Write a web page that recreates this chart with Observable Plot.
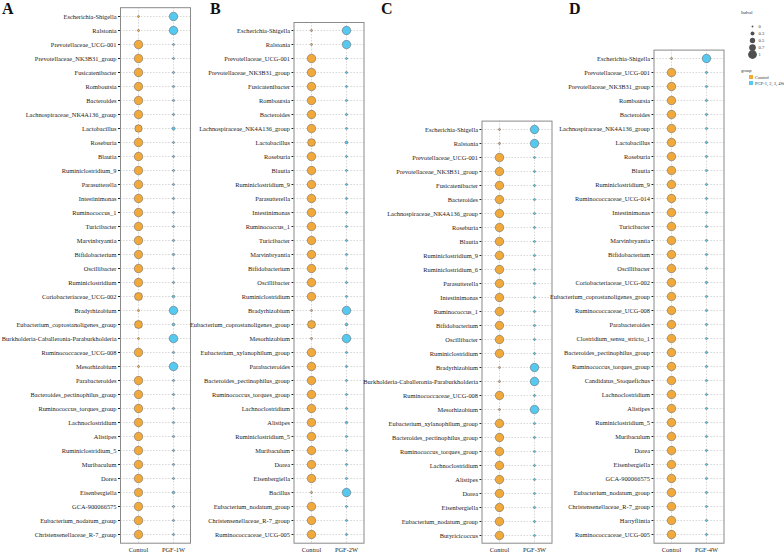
<!DOCTYPE html>
<html>
<head>
<meta charset="utf-8">
<script src="https://cdn.jsdelivr.net/npm/d3@7"></script>
<script src="https://cdn.jsdelivr.net/npm/@observablehq/plot@0.6"></script>
<style>
  html, body { margin: 0; padding: 0; background: #fff; }
  #root { position: relative; width: 784px; height: 553px; overflow: hidden; font-family: "Liberation Serif", serif; }
  .pnl { position: absolute; top: 0; }
  .letter { position: absolute; top: 0; font: bold 16px/16px "Liberation Serif", serif; color: #111; }
  .lg { position: absolute; font: 4.5px/5px "Liberation Serif", serif; color: #333; white-space: nowrap; }
  .sq { position: absolute; width: 4px; height: 4px; }
</style>
</head>
<body>
<div id="root"></div>
<script>
const ORANGE = "#F2A93B";
const BLUE = "#56C9F1";

// ---------- Panel A (PGF-1W) ----------
const rowsA = ["Escherichia-Shigella","Ralstonia","Prevotellaceae_UCG-001","Prevotellaceae_NK3B31_group","Fusicatenibacter","Romboutsia","Bacteroides","Lachnospiraceae_NK4A136_group","Lactobacillus","Roseburia","Blautia","Ruminiclostridium_9","Parasutterella","Intestinimonas","Ruminococcus_1","Turicibacter","Marvinbryantia","Bifidobacterium","Oscillibacter","Ruminiclostridium","Coriobacteriaceae_UCG-002","Bradyrhizobium","Eubacterium_coprostanoligenes_group","Burkholderia-Caballeronia-Paraburkholderia","Ruminococcaceae_UCG-008","Mesorhizobium","Parabacteroides","Bacteroides_pectinophilus_group","Ruminococcus_torques_group","Lachnoclostridium","Alistipes","Ruminiclostridium_5","Muribaculum","Dorea","Eisenbergiella","GCA-900066575","Eubacterium_nodatum_group","Christensenellaceae_R-7_group"];
const ctrlA = [0.03,0.03,0.97,0.96,0.96,0.95,0.95,0.96,0.80,0.97,0.96,0.96,0.96,0.96,0.96,0.96,0.95,0.93,0.96,0.96,0.88,0.05,0.88,0.03,0.95,0.03,0.95,0.95,0.95,0.96,0.95,0.96,0.96,0.96,0.90,0.96,0.96,0.96];
const pgfA  = [0.95,0.95,0.03,0.04,0.04,0.05,0.05,0.04,0.20,0.03,0.04,0.04,0.04,0.04,0.04,0.04,0.05,0.07,0.04,0.04,0.12,0.95,0.12,0.97,0.05,0.97,0.05,0.05,0.05,0.04,0.05,0.04,0.04,0.04,0.10,0.04,0.04,0.04];

// ---------- Panel B (PGF-2W) ----------
const rowsB = ["Escherichia-Shigella","Ralstonia","Prevotellaceae_UCG-001","Prevotellaceae_NK3B31_group","Fusicatenibacter","Romboutsia","Bacteroides","Lachnospiraceae_NK4A136_group","Lactobacillus","Roseburia","Blautia","Ruminiclostridium_9","Parasutterella","Intestinimonas","Ruminococcus_1","Turicibacter","Marvinbryantia","Bifidobacterium","Oscillibacter","Ruminiclostridium","Bradyrhizobium","Eubacterium_coprostanoligenes_group","Mesorhizobium","Eubacterium_xylanophilum_group","Parabacteroides","Bacteroides_pectinophilus_group","Ruminococcus_torques_group","Lachnoclostridium","Alistipes","Ruminiclostridium_5","Muribaculum","Dorea","Eisenbergiella","Bacillus","Eubacterium_nodatum_group","Christensenellaceae_R-7_group","Ruminococcaceae_UCG-005"];
const ctrlB = [0.03,0.03,0.97,0.96,0.96,0.95,0.95,0.96,0.85,0.97,0.96,0.96,0.96,0.96,0.96,0.96,0.95,0.94,0.96,0.96,0.03,0.88,0.03,0.96,0.95,0.96,0.96,0.96,0.92,0.96,0.96,0.96,0.95,0.03,0.96,0.96,0.96];
const pgfB  = [0.95,0.95,0.03,0.04,0.04,0.05,0.05,0.04,0.15,0.03,0.04,0.04,0.04,0.04,0.04,0.04,0.05,0.06,0.04,0.04,0.95,0.12,0.97,0.04,0.05,0.04,0.04,0.04,0.08,0.04,0.04,0.04,0.05,0.95,0.04,0.04,0.04];

// ---------- Panel C (PGF-3W) ----------
const rowsC = ["Escherichia-Shigella","Ralstonia","Prevotellaceae_UCG-001","Prevotellaceae_NK3B31_group","Fusicatenibacter","Bacteroides","Lachnospiraceae_NK4A136_group","Roseburia","Blautia","Ruminiclostridium_9","Ruminiclostridium_6","Parasutterella","Intestinimonas","Ruminococcus_1","Bifidobacterium","Oscillibacter","Ruminiclostridium","Bradyrhizobium","Burkholderia-Caballeronia-Paraburkholderia","Ruminococcaceae_UCG-008","Mesorhizobium","Eubacterium_xylanophilum_group","Bacteroides_pectinophilus_group","Ruminococcus_torques_group","Lachnoclostridium","Alistipes","Dorea","Eisenbergiella","Eubacterium_nodatum_group","Butyricicoccus"];
const ctrlC = [0.03,0.03,0.97,0.96,0.96,0.95,0.95,0.96,0.96,0.96,0.96,0.96,0.96,0.96,0.94,0.96,0.96,0.03,0.03,0.95,0.03,0.96,0.95,0.96,0.96,0.96,0.96,0.94,0.96,0.96];
const pgfC  = [0.95,0.95,0.03,0.04,0.04,0.05,0.05,0.04,0.04,0.04,0.04,0.04,0.04,0.04,0.06,0.04,0.04,0.95,0.97,0.05,0.97,0.04,0.05,0.04,0.04,0.04,0.04,0.06,0.04,0.04];

// ---------- Panel D (PGF-4W) ----------
const rowsD = ["Escherichia-Shigella","Prevotellaceae_UCG-001","Prevotellaceae_NK3B31_group","Romboutsia","Bacteroides","Lachnospiraceae_NK4A136_group","Lactobacillus","Roseburia","Blautia","Ruminiclostridium_9","Ruminococcaceae_UCG-014","Intestinimonas","Turicibacter","Marvinbryantia","Bifidobacterium","Oscillibacter","Coriobacteriaceae_UCG-002","Eubacterium_coprostanoligenes_group","Ruminococcaceae_UCG-008","Parabacteroides","Clostridium_sensu_stricto_1","Bacteroides_pectinophilus_group","Ruminococcus_torques_group","Candidatus_Stoquefichus","Lachnoclostridium","Alistipes","Ruminiclostridium_5","Muribaculum","Dorea","Eisenbergiella","GCA-900066575","Eubacterium_nodatum_group","Christensenellaceae_R-7_group","Harryflintia","Ruminococcaceae_UCG-005"];
const ctrlD = [0.03,0.96,0.96,0.96,0.96,0.96,0.95,0.96,0.96,0.96,0.96,0.96,0.96,0.96,0.96,0.96,0.95,0.96,0.96,0.96,0.96,0.95,0.96,0.96,0.96,0.96,0.96,0.96,0.96,0.96,0.96,0.95,0.96,0.96,0.96];
const pgfD  = [0.95,0.06,0.06,0.06,0.06,0.06,0.07,0.06,0.06,0.05,0.05,0.05,0.06,0.06,0.06,0.06,0.07,0.06,0.06,0.06,0.05,0.07,0.06,0.05,0.05,0.05,0.05,0.05,0.05,0.05,0.05,0.06,0.05,0.05,0.05];

// ---------- Legend ----------
const legendTitle = "Indval";
const legendVals = [0, 0.3, 0.5, 0.7, 1];
const groupTitle = "group";
const groupLabels = ["Control", "PGF-1, 2, 3, 4W"];
const groupColors = [ORANGE, BLUE];

const rScale = {type: "linear", domain: [0, 1], range: [0.9, 4.4]};
const root = document.getElementById("root");

function panel(rows, ctrl, pgf, label, geo) {
  const data = rows.flatMap((r, i) => [
    {taxon: r, group: "Control", v: ctrl[i]},
    {taxon: r, group: label, v: pgf[i]}
  ]);
  const plot = Plot.plot({
    width: geo.width,
    height: 553,
    marginLeft: geo.frameLeft - geo.left,
    marginRight: geo.left + geo.width - geo.frameRight,
    marginTop: geo.frameTop,
    marginBottom: 553 - geo.frameBottom,
    style: {fontFamily: "Liberation Serif, serif", fontSize: "6.4px", background: "transparent", color: "#222", overflow: "visible"},
    x: {type: "point", domain: ["Control", label], padding: 0.5, label: null, tickSize: 0, tickPadding: 4},
    y: {type: "point", domain: rows, padding: 0.5, label: null, tickSize: 2, tickPadding: 2},
    r: rScale,
    color: {domain: ["Control", label], range: [ORANGE, BLUE]},
    marks: [
      Plot.gridX({stroke: "#bdbdbd", strokeOpacity: 1, strokeDasharray: "1.5,1.5", strokeWidth: 0.6}),
      Plot.gridY({stroke: "#bdbdbd", strokeOpacity: 1, strokeDasharray: "1.5,1.5", strokeWidth: 0.6}),
      Plot.frame({stroke: "#8a8a8a", strokeWidth: 1}),
      Plot.dot(data, {x: "group", y: "taxon", r: "v", fill: "group", stroke: "#5a5a5a", strokeWidth: 0.5})
    ]
  });
  plot.classList.add("pnl");
  plot.style.left = geo.left + "px";
  root.appendChild(plot);
}

// row step ~14.07 px, padding half a step at each end
panel(rowsA, ctrlA, pgfA, "PGF-1W", {left: 0,   width: 194, frameLeft: 120,   frameRight: 190,   frameTop: 7.2,   frameBottom: 542.7});
panel(rowsB, ctrlB, pgfB, "PGF-2W", {left: 194, width: 172, frameLeft: 293.5, frameRight: 363.5, frameTop: 22,    frameBottom: 542.7});
panel(rowsC, ctrlC, pgfC, "PGF-3W", {left: 366, width: 188, frameLeft: 481.5, frameRight: 551.5, frameTop: 120.6, frameBottom: 542.7});
panel(rowsD, ctrlD, pgfD, "PGF-4W", {left: 554, width: 172, frameLeft: 653.5, frameRight: 723.5, frameTop: 49.6,  frameBottom: 542.7});

// panel letters
[["A", 2], ["B", 210], ["C", 381], ["D", 569]].forEach(([t, x]) => {
  const d = document.createElement("div");
  d.className = "letter"; d.textContent = t; d.style.left = x + "px"; d.style.top = "1px";
  root.appendChild(d);
});

// size legend, drawn through Plot's r scale
const lplot = Plot.plot({
  width: 30, height: 46, margin: 0, marginTop: 4, marginBottom: 4,
  style: {fontFamily: "Liberation Serif, serif", fontSize: "4.5px", background: "transparent", color: "#333", overflow: "visible"},
  x: {axis: null},
  y: {type: "point", domain: legendVals, axis: null},
  r: rScale,
  marks: [
    Plot.dot(legendVals, {y: d => d, r: d => d, fill: "#505050", frameAnchor: "left", dx: 6}),
    Plot.text(legendVals, {y: d => d, text: d => String(d), frameAnchor: "left", dx: 12, textAnchor: "start", fill: "#333"})
  ]
});
lplot.classList.add("pnl");
lplot.style.left = "746px";
lplot.style.top = "16.5px";
root.appendChild(lplot);

function lgText(t, x, y) {
  const d = document.createElement("div");
  d.className = "lg"; d.textContent = t; d.style.left = x + "px"; d.style.top = y + "px";
  root.appendChild(d);
}
lgText(legendTitle, 741, 10);
lgText(groupTitle, 741, 68);
groupLabels.forEach((g, i) => {
  const s = document.createElement("div");
  s.className = "sq"; s.style.background = groupColors[i];
  s.style.left = "749px"; s.style.top = (75.3 + i * 6) + "px";
  root.appendChild(s);
  lgText(g, 755, 74.8 + i * 6);
});
</script>
</body>
</html>
